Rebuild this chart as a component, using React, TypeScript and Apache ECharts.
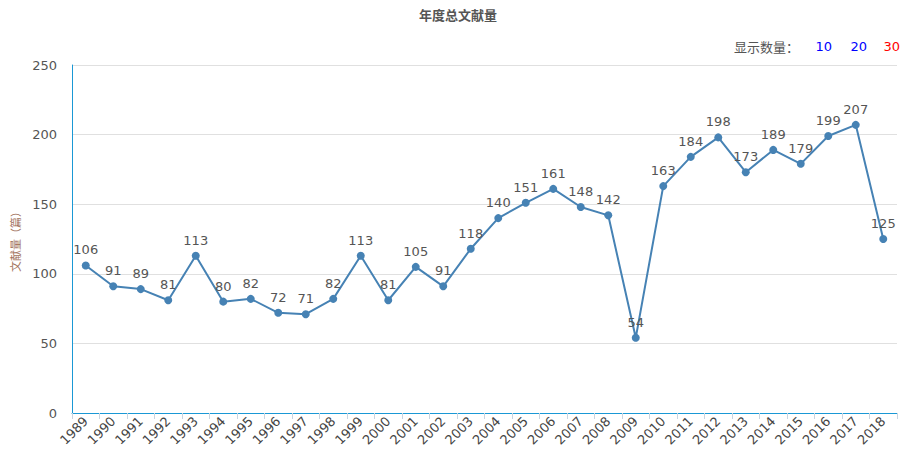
import React, { useEffect, useRef } from "react";
import * as echarts from "echarts";

const years = ["1989","1990","1991","1992","1993","1994","1995","1996","1997","1998","1999","2000","2001","2002","2003","2004","2005","2006","2007","2008","2009","2010","2011","2012","2013","2014","2015","2016","2017","2018"];
const counts = [106,91,89,81,113,80,82,72,71,82,113,81,105,91,118,140,151,161,148,142,54,163,184,198,173,189,179,199,207,125];
const yTicks = { min: 0, max: 250, interval: 50 };

export default function App() {
  const ref = useRef<HTMLDivElement>(null);
  useEffect(() => {
    const chart = echarts.init(ref.current!, null, { renderer: "svg" });
    chart.setOption({
      animation: false,
      title: {
        text: "年度总文献量",
        left: "center",
        top: 3,
        textStyle: { fontSize: 13, fontWeight: "bold", color: "#555", fontFamily: "Noto Sans CJK SC" },
      },
      graphic: [
        { type: "text", right: 117, top: 40, style: { text: "显示数量：", fontSize: 13, fill: "#555", fontFamily: "Noto Sans CJK SC" } },
        { type: "text", right: 84, top: 40, style: { text: "10", fontSize: 13, fill: "#0000ff", fontFamily: "DejaVu Sans" } },
        { type: "text", right: 49, top: 40, style: { text: "20", fontSize: 13, fill: "#0000ff", fontFamily: "DejaVu Sans" } },
        { type: "text", right: 16, top: 40, style: { text: "30", fontSize: 13, fill: "#ff0000", fontFamily: "DejaVu Sans" } },
      ],
      grid: { left: 72, right: 19, top: 65, bottom: 54 },
      xAxis: {
        type: "category",
        data: years,
        boundaryGap: true,
        axisLine: { lineStyle: { color: "#1a98d5", width: 1 } },
        axisTick: { show: true, length: 6, lineStyle: { color: "#c8d4e0" } },
        axisLabel: { rotate: 45, interval: 0, fontSize: 13, color: "#444", fontFamily: "DejaVu Sans", margin: 6 },
      },
      yAxis: {
        type: "value",
        min: yTicks.min,
        max: yTicks.max,
        interval: yTicks.interval,
        name: "文献量（篇）",
        nameLocation: "middle",
        nameGap: 52,
        nameTextStyle: { fontSize: 11, color: "#a0705a", fontFamily: "Noto Sans CJK SC" },
        axisLine: { show: true, lineStyle: { color: "#1a98d5", width: 1 } },
        axisTick: { show: false },
        axisLabel: { fontSize: 13, color: "#555", fontFamily: "DejaVu Sans", margin: 15 },
        splitLine: { lineStyle: { color: "#e0e0e0" } },
      },
      series: [
        {
          type: "line",
          data: counts,
          symbol: "circle",
          symbolSize: 8,
          itemStyle: { color: "#4682b4" },
          lineStyle: { color: "#4682b4", width: 2 },
          label: { show: true, position: "top", fontSize: 13, color: "#555", fontFamily: "DejaVu Sans", distance: 5 },
        },
      ],
    });
    return () => chart.dispose();
  }, []);
  return <div ref={ref} style={{ position: "absolute", left: 0, top: 0, width: 916, height: 467 }} />;
}
